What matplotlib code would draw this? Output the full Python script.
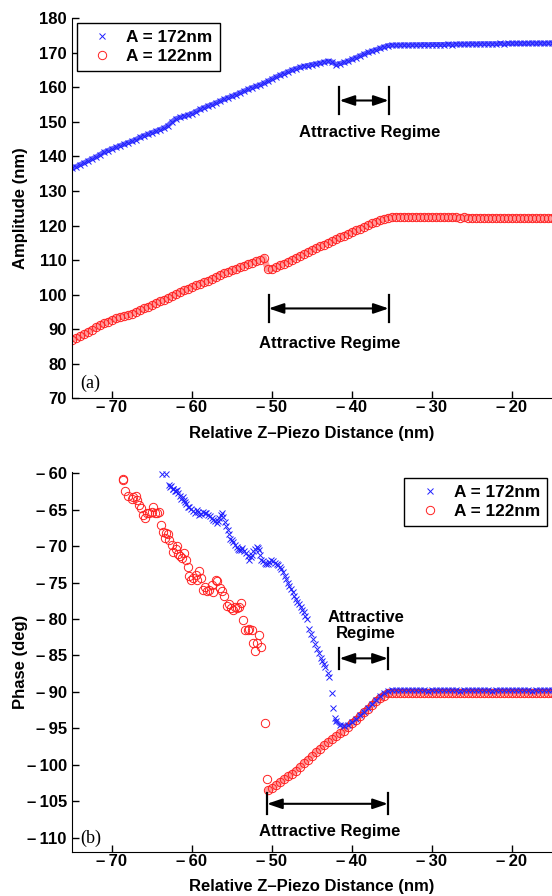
import matplotlib
matplotlib.use("Agg")
import matplotlib.pyplot as plt
from matplotlib.ticker import FuncFormatter
import numpy as np

plt.rcParams['font.family'] = ['Liberation Sans', 'DejaVu Sans']
plt.rcParams['font.weight'] = 'bold'
plt.rcParams['font.size'] = 12

# amplitude curves, sampled every 0.5 nm from -75 to -15
ampZ = np.arange(-75.0, -14.99, 0.5)
amp172 = [136.6, 137.0, 137.6, 138.1, 138.7, 139.3, 139.8, 140.5, 141.2, 141.7,
          142.2, 142.6, 143.1, 143.5, 144.0, 144.4, 144.9, 145.5, 146.0, 146.4,
          146.9, 147.3, 147.8, 148.2, 148.9, 150.0, 150.9, 151.3, 151.6, 152.0,
          152.4, 153.0, 153.6, 154.1, 154.6, 155.0, 155.5, 156.0, 156.5, 157.0,
          157.4, 157.9, 158.4, 158.9, 159.4, 159.9, 160.3, 160.7, 161.2, 161.8,
          162.4, 163.0, 163.5, 164.0, 164.5, 165.0, 165.4, 165.8, 166.1, 166.3,
          166.6, 166.8, 167.0, 167.3, 167.6, 167.4, 166.6, 166.9, 167.2, 167.6,
          168.1, 168.6, 169.1, 169.6, 170.1, 170.5, 170.9, 171.3, 171.7, 172.1,
          172.2, 172.2, 172.2, 172.3, 172.2, 172.3, 172.3, 172.3, 172.4, 172.3,
          172.4, 172.4, 172.4, 172.4, 172.5, 172.4, 172.5, 172.5, 172.5, 172.5,
          172.6, 172.5, 172.6, 172.6, 172.6, 172.6, 172.6, 172.7, 172.6, 172.7,
          172.7, 172.7, 172.7, 172.7, 172.7, 172.8, 172.7, 172.8, 172.7, 172.8,
          172.8]
amp122 = [87.0, 87.4, 87.9, 88.5, 89.2, 89.9, 90.5, 91.1, 91.7, 92.2,
          92.7, 93.1, 93.5, 93.8, 94.1, 94.5, 95.0, 95.5, 96.0, 96.5,
          96.9, 97.6, 98.1, 98.5, 99.0, 99.6, 100.1, 100.7, 101.2, 101.7,
          102.2, 102.7, 103.1, 103.6, 104.0, 104.5, 105.0, 105.8, 106.2, 106.6,
          107.0, 107.4, 107.9, 108.4, 108.9, 109.3, 109.6, 110.1, 110.6, 107.4,
          107.3, 107.9, 108.5, 109.0, 109.5, 110.1, 110.7, 111.2, 111.8, 112.4,
          112.9, 113.5, 114.0, 114.5, 115.0, 115.5, 116.0, 116.6, 117.1, 117.6,
          118.1, 118.6, 119.1, 119.6, 120.1, 120.6, 121.0, 121.5, 121.9, 122.3,
          122.5, 122.6, 122.6, 122.6, 122.6, 122.5, 122.6, 122.5, 122.5, 122.5,
          122.5, 122.4, 122.5, 122.4, 122.4, 122.4, 122.4, 122.3, 122.4, 122.3,
          122.3, 122.3, 122.3, 122.3, 122.2, 122.3, 122.2, 122.2, 122.2, 122.2,
          122.2, 122.2, 122.1, 122.2, 122.1, 122.2, 122.1, 122.1, 122.1, 122.1,
          122.1]

# phase, A = 172nm: scattered points then the settled branch
ph172Z = [-63.75, -63.25, -62.9, -62.75, -62.6, -62.4, -62.3, -62.1, -62.0, -61.85,
          -61.7, -61.5, -61.3, -61.15, -61.0, -60.85, -60.7, -60.5, -60.3, -60.1,
          -59.8, -59.6, -59.4, -59.25, -59.1, -58.9, -58.6, -58.4, -58.2, -58.0,
          -57.7, -57.5, -57.3, -57.1, -56.9, -56.75, -56.6, -56.4, -56.2, -56.05,
          -55.9, -55.7, -55.5, -55.35, -55.2, -55.0, -54.8, -54.6, -54.4, -54.25,
          -54.1, -53.9, -53.7, -53.45, -53.2, -53.0, -52.8, -52.65, -52.5, -52.3,
          -52.1, -51.9, -51.75, -51.6, -51.45, -51.3, -51.1, -50.9, -50.7, -50.5,
          -50.3, -50.1, -49.85, -49.6, -49.4, -49.25, -49.0, -48.8, -48.6, -48.4,
          -48.2, -48.0, -47.8, -47.6, -47.4, -47.2, -47.0, -46.8, -46.6, -46.4,
          -46.2, -46.0, -45.8, -45.6, -45.4, -45.1, -44.8, -44.55, -44.3, -44.1,
          -43.9, -43.7, -43.5, -43.3, -43.0, -42.8, -42.5, -42.3, -42.1]
ph172 = [-60.1, -60.1, -61.6, -61.9, -61.8, -62.1, -62.2, -62.5, -62.4, -62.3,
         -62.7, -63.1, -63.5, -63.3, -63.7, -64.0, -64.2, -64.6, -64.7, -64.9,
         -65.2, -65.5, -65.0, -65.3, -65.8, -65.6, -65.3, -65.5, -65.4, -65.7,
         -65.9, -66.2, -66.4, -66.6, -66.8, -66.5, -66.2, -65.8, -65.5, -66.0,
         -66.7, -67.2, -67.8, -68.3, -69.0, -69.2, -69.4, -69.8, -70.1, -70.4,
         -70.5, -70.6, -70.3, -70.7, -71.0, -71.4, -71.9, -71.5, -71.2, -70.7,
         -70.4, -70.1, -70.3, -70.5, -71.2, -71.9, -72.1, -72.3, -72.4, -72.5,
         -72.2, -71.9, -72.1, -72.3, -72.5, -72.6, -72.9, -73.2, -73.6, -74.1,
         -74.5, -75.0, -75.5, -75.9, -76.3, -76.8, -77.2, -77.7, -78.0, -78.4,
         -78.7, -79.1, -79.6, -80.0, -81.4, -82.0, -82.7, -83.4, -84.1, -84.7,
         -85.3, -85.8, -86.2, -86.6, -87.4, -87.9, -90.1, -92.2, -93.6]
ph172BranchZ = np.arange(-42.0, -14.99, 0.5)
ph172Branch = [-94.0, -94.5, -94.7, -94.5, -94.1, -93.7, -93.2, -92.7, -92.2, -91.6,
               -91.1, -90.6, -90.2, -89.9, -89.8, -89.8, -89.8, -89.8, -89.8, -89.8,
               -89.8, -89.8, -89.8, -89.9, -89.8, -89.8, -89.8, -89.8, -89.8, -89.8,
               -89.8, -89.9, -89.8, -89.8, -89.8, -89.8, -89.8, -89.8, -89.8, -89.9,
               -89.8, -89.8, -89.8, -89.8, -89.8, -89.8, -89.8, -89.8, -89.8, -89.9,
               -89.8, -89.8, -89.8, -89.8, -89.8]

# phase, A = 122nm
ph122Z = [-68.6, -68.55, -68.3, -68.0, -67.5, -67.3, -67.0, -66.8, -66.6, -66.4,
          -66.1, -65.9, -65.6, -65.3, -65.0, -64.8, -64.6, -64.4, -64.1, -63.8,
          -63.6, -63.4, -63.2, -63.0, -62.8, -62.5, -62.4, -62.0, -61.9, -61.7,
          -61.5, -61.2, -61.0, -60.7, -60.5, -60.3, -60.1, -59.8, -59.5, -59.3,
          -59.1, -58.8, -58.6, -58.3, -58.1, -57.8, -57.5, -57.3, -57.0, -56.8,
          -56.5, -56.2, -56.0, -55.6, -55.4, -55.1, -54.9, -54.6, -54.4, -54.1,
          -53.8, -53.6, -53.3, -53.0, -52.8, -52.5, -52.3, -52.1, -51.8, -51.6,
          -51.4, -50.8, -50.6]
ph122 = [-60.8, -61.0, -62.5, -63.1, -63.6, -63.2, -63.1, -63.7, -64.4, -64.8,
         -65.8, -66.1, -65.5, -65.4, -65.3, -64.7, -65.4, -65.5, -65.3, -67.1,
         -68.0, -68.9, -68.2, -68.4, -69.2, -69.8, -70.8, -70.4, -70.0, -71.1,
         -71.4, -71.7, -71.0, -71.9, -72.9, -74.1, -74.7, -74.4, -74.0, -74.6,
         -73.4, -74.4, -76.0, -75.6, -76.1, -76.0, -75.4, -76.3, -74.6, -74.8,
         -75.8, -76.1, -76.8, -78.2, -78.0, -78.5, -78.8, -78.4, -78.5, -78.4,
         -77.8, -80.2, -81.5, -81.5, -81.4, -81.5, -83.3, -84.4, -83.3, -82.2,
         -83.8, -94.2, -102.0]
ph122BranchZ = np.arange(-50.5, -14.99, 0.5)
ph122Branch = [-103.5, -103.2, -102.8, -102.4, -102.0, -101.6, -101.2, -100.8, -100.3, -99.8,
               -99.3, -98.8, -98.3, -97.8, -97.3, -96.9, -96.5, -96.1, -95.7, -95.3,
               -94.8, -94.3, -93.8, -93.3, -92.8, -92.3, -91.8, -91.3, -90.9, -90.5,
               -90.2, -90.1, -90.1, -90.1, -90.1, -90.1, -90.1, -90.1, -90.1, -90.1,
               -90.1, -90.1, -90.1, -90.1, -90.1, -90.1, -90.1, -90.1, -90.1, -90.1,
               -90.1, -90.1, -90.1, -90.1, -90.1, -90.1, -90.1, -90.1, -90.1, -90.1,
               -90.1, -90.1, -90.1, -90.1, -90.1, -90.1, -90.1, -90.1, -90.1, -90.1,
               -90.1, -90.1]

blueStyle = dict(linestyle='none', marker='x', color='#2020ff', markersize=4.5, markeredgewidth=0.7)
redStyle = dict(linestyle='none', marker='o', markerfacecolor='none', markeredgecolor='#ff2020',
                markersize=6, markeredgewidth=0.7)


def minusLabel(v, pos) :
	if v < 0 :
		return "\u2013\u2009%d" % abs(v)
	return "%d" % v


def band(ax, x, y, color, width) :
	# densely sampled stretch: fill the gaps between the markers
	ax.plot(x, y, '-', color=color, lw=width, solid_capstyle='round', solid_joinstyle='round')


def styleAxes(ax, yTicks, yLim) :
	ax.set_xlim(-75, -15)
	ax.set_ylim(*yLim)
	ax.set_xticks([-70, -60, -50, -40, -30, -20])
	ax.set_yticks(yTicks)
	ax.xaxis.set_major_formatter(FuncFormatter(minusLabel))
	ax.yaxis.set_major_formatter(FuncFormatter(minusLabel))
	ax.spines['top'].set_visible(False)
	ax.spines['right'].set_visible(False)
	ax.tick_params(direction='in', length=5, width=1)
	ax.tick_params(axis='x', pad=1.5)
	ax.set_xlabel("Relative Z\u2013Piezo Distance (nm)", fontweight='bold')


def regimeMarker(ax, x0, x1, yMid, halfBar) :
	for xb in (x0, x1) :
		ax.plot([xb, xb], [yMid - halfBar, yMid + halfBar], color='k', lw=1.6, clip_on=False)
	ax.annotate('', xy=(x1, yMid), xytext=(x0, yMid),
		arrowprops=dict(arrowstyle='<|-|>,head_length=0.5,head_width=0.17', color='k',
			lw=1.5, shrinkA=0, shrinkB=0, mutation_scale=18))


def legend(ax, anchor, loc) :
	leg = ax.legend(loc=loc, bbox_to_anchor=anchor, borderaxespad=0, fancybox=False,
		edgecolor='k', framealpha=1, handlelength=2.2, handletextpad=0.3,
		borderpad=0.4, labelspacing=0.2, prop={'weight': 'bold', 'size': 12.4})
	leg.get_frame().set_linewidth(1.0)


fig = plt.figure(figsize=(5.52, 8.96), dpi=100)
axA = fig.add_axes([0.1299, 0.5555, 0.8701, 0.4241])
axB = fig.add_axes([0.1299, 0.0488, 0.8701, 0.4247])

band(axA, ampZ, amp172, '#6060ff', 3.6)
band(axA, ampZ, amp122, '#ff9a9a', 4.6)
axA.plot(ampZ, amp172, label="A = 172nm", **blueStyle)
axA.plot(ampZ, amp122, label="A = 122nm", **redStyle)
styleAxes(axA, np.arange(70, 181, 10), (70, 180))
axA.set_ylabel("Amplitude (nm)", fontweight='bold')
axA.yaxis.set_label_coords(-0.09, 0.5)
axA.xaxis.set_label_coords(0.5, -0.072)
legend(axA, (0.01, 0.987), 'upper left')
regimeMarker(axA, -41.55, -35.4, 156.2, 3.9)
axA.text(-37.8, 146.8, "Attractive Regime", ha='center', va='center', fontweight='bold')
regimeMarker(axA, -50.4, -35.4, 96.0, 3.9)
axA.text(-42.8, 86.0, "Attractive Regime", ha='center', va='center', fontweight='bold')
axA.text(0.017, 0.039, "(a)", transform=axA.transAxes, va='center', ha='left',
	family=['Liberation Serif'], fontweight='normal', fontsize=13)

band(axB, ph122BranchZ, ph122Branch, '#ff9a9a', 4.6)
band(axB, ph172BranchZ, ph172Branch, '#6060ff', 3.2)
axB.plot(ph172Z, ph172, label="A = 172nm", clip_on=False, **blueStyle)
axB.plot(ph122Z, ph122, label="A = 122nm", **redStyle)
axB.plot(ph122BranchZ, ph122Branch, **redStyle)
axB.plot(ph172BranchZ, ph172Branch, **blueStyle)
styleAxes(axB, np.arange(-110, -59, 5), (-112, -59.8))
axB.set_ylabel("Phase (deg)", fontweight='bold')
axB.yaxis.set_label_coords(-0.09, 0.5)
axB.xaxis.set_label_coords(0.5, -0.069)
legend(axB, (0.99, 0.983), 'upper right')
regimeMarker(axB, -41.55, -35.5, -85.4, 1.4)
axB.text(-38.2, -80.9, "Attractive\nRegime", ha='center', va='center', fontweight='bold',
	linespacing=1.12)
regimeMarker(axB, -50.6, -35.5, -105.35, 1.45)
axB.text(-42.8, -109.1, "Attractive Regime", ha='center', va='center', fontweight='bold')
axB.text(0.017, 0.037, "(b)", transform=axB.transAxes, va='center', ha='left',
	family=['Liberation Serif'], fontweight='normal', fontsize=13)

fig.savefig("out.png", dpi=100)
plt.close(fig)
